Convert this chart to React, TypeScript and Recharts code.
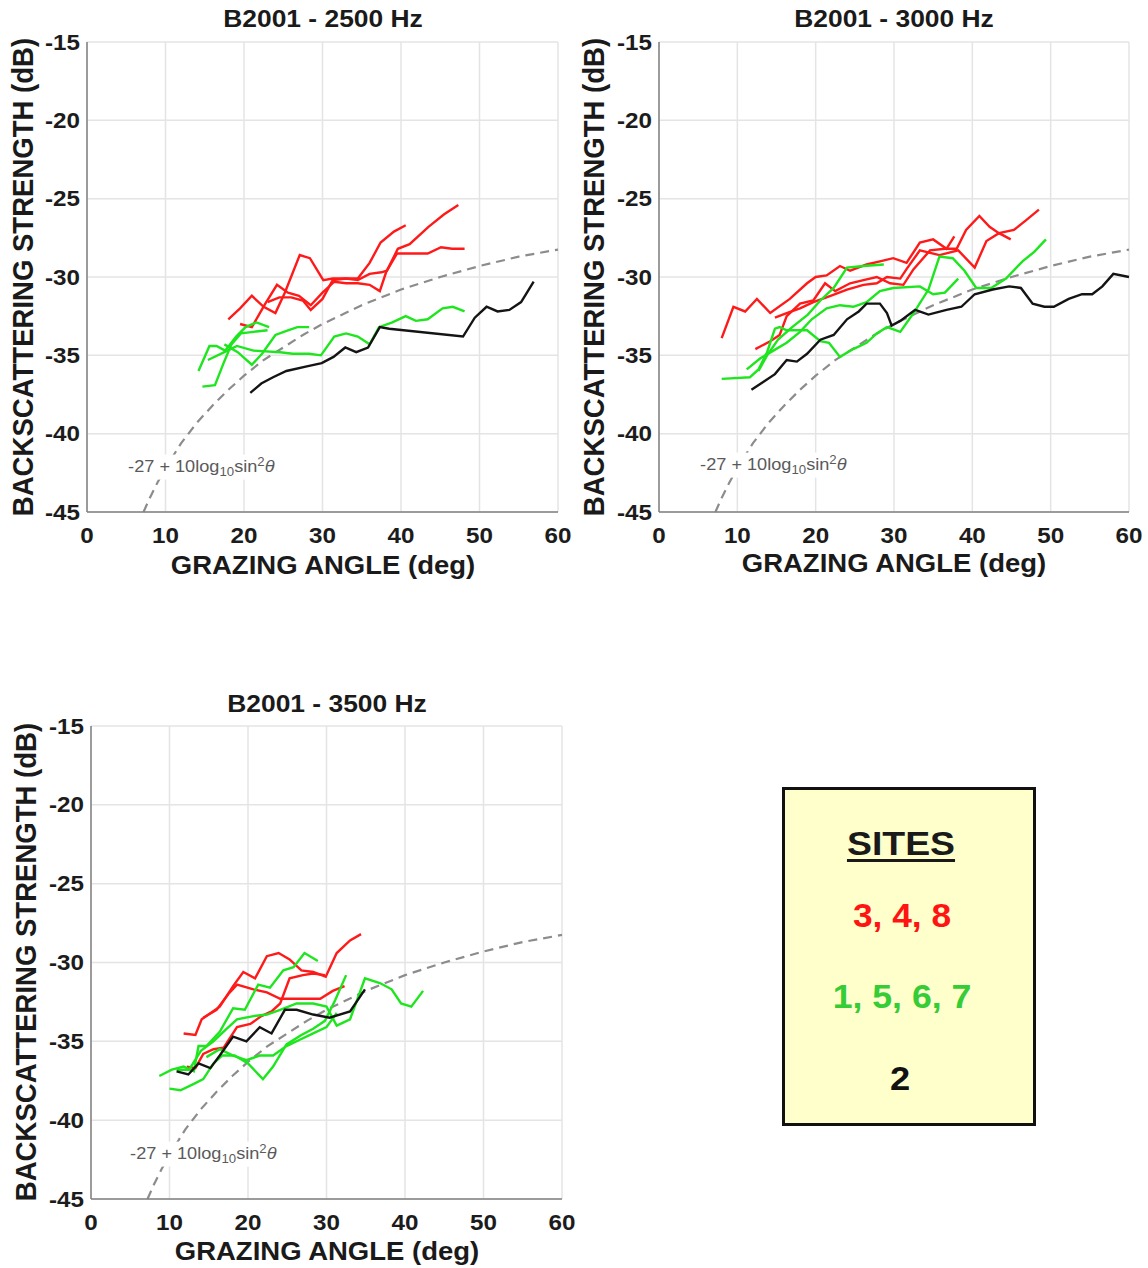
import React from 'react';
import { LineChart, Line, XAxis, YAxis, CartesianGrid } from 'recharts';

type Pt = [number, number];

// ---------- axis / text content ----------
const xTickValues = [0, 10, 20, 30, 40, 50, 60];
const yTickValues = [-45, -40, -35, -30, -25, -20, -15];
const panelTitles = ['B2001 - 2500 Hz', 'B2001 - 3000 Hz', 'B2001 - 3500 Hz'];
const xAxisTitle = 'GRAZING ANGLE (deg)';
const yAxisTitle = 'BACKSCATTERING STRENGTH (dB)';
const legendTitle = 'SITES';
const legendRed = '3, 4, 8';
const legendGreen = '1, 5, 6, 7';
const legendBlack = '2';

// ---------- model curve (-27 + 10log10 sin^2 theta) ----------
const modelCurve: Pt[] = [
  [7.2, -45.0], [8, -44.1], [9, -43.1], [10, -42.2], [12, -40.6], [14, -39.3], [16, -38.2],
  [18, -37.2], [20, -36.3], [22.5, -35.3], [25, -34.5], [27.5, -33.7], [30, -33.0], [35, -31.8],
  [40, -30.8], [45, -30.0], [50, -29.3], [55, -28.7], [60, -28.25],
];

// ---------- 2500 Hz ----------
const red2500A: Pt[] = [
  [18.0, -32.7], [19.5, -32.0], [21.0, -31.2], [22.5, -31.9], [24.0, -32.3], [25.2, -31.0], [27.1, -28.6],
  [28.4, -28.8], [30.1, -30.2], [31.3, -30.1], [34.5, -30.1], [36.0, -29.1], [37.4, -27.8], [39.1, -27.1], [40.6, -26.7],
];
const red2500B: Pt[] = [
  [19.5, -33.0], [21.0, -33.2], [22.6, -31.8], [24.2, -30.5], [25.6, -31.0], [27.0, -31.2], [28.5, -31.8],
  [30.0, -31.0], [31.5, -30.3], [33.0, -30.4], [34.5, -30.4], [36.0, -30.5], [37.3, -30.9], [38.1, -29.7],
  [39.6, -28.2], [41.1, -27.9], [43.5, -26.8], [45.5, -26.0], [47.3, -25.4],
];
const red2500C: Pt[] = [
  [23.0, -31.6], [24.5, -31.3], [26.0, -31.3], [27.5, -31.5], [28.5, -32.1], [30.0, -31.4], [31.3, -30.2],
  [33.0, -30.1], [34.5, -30.2], [36.0, -29.8], [37.5, -29.7], [38.2, -29.6], [39.5, -28.5], [41.0, -28.5],
  [43.4, -28.5], [45.1, -28.1], [46.5, -28.2], [48.1, -28.2],
];
const green2500A: Pt[] = [
  [14.2, -36.0], [15.6, -34.4], [16.5, -34.4], [17.6, -34.7], [19.0, -33.8], [20.2, -33.2], [21.6, -32.9], [23.2, -33.2],
];
const green2500B: Pt[] = [
  [14.7, -37.0], [16.3, -36.9], [17.4, -35.5], [18.4, -34.3], [19.6, -33.6], [21.2, -33.5], [23.0, -33.4],
];
const green2500C: Pt[] = [
  [15.4, -35.3], [17.5, -34.8], [19.1, -34.4], [21.2, -34.7], [24.6, -34.8], [26.2, -34.9], [28.3, -34.9],
  [29.8, -35.0], [31.5, -33.8], [33.0, -33.6], [34.5, -33.8], [36.0, -34.3], [37.2, -33.2], [38.9, -32.9],
  [40.6, -32.5], [41.9, -32.8], [43.4, -32.7], [45.3, -32.0], [46.6, -31.9], [48.1, -32.2],
];
const green2500D: Pt[] = [
  [17.5, -34.3], [19.2, -34.8], [21.0, -35.6], [22.3, -34.9], [24.0, -33.7], [25.6, -33.4], [26.8, -33.2], [28.3, -33.2],
];
const black2500: Pt[] = [
  [20.8, -37.4], [22.2, -36.8], [23.7, -36.4], [25.4, -36.0], [28.0, -35.7], [29.9, -35.5], [31.4, -35.1],
  [32.9, -34.5], [34.3, -34.8], [35.8, -34.5], [37.3, -33.2], [38.5, -33.3], [47.9, -33.8], [49.4, -32.6],
  [50.9, -31.9], [52.3, -32.2], [53.8, -32.1], [55.3, -31.6], [56.9, -30.3],
];

// ---------- 3000 Hz ----------
const red3000A: Pt[] = [
  [8.0, -33.9], [9.5, -31.9], [11.0, -32.2], [12.5, -31.4], [14.2, -32.3], [16.7, -31.4], [18.9, -30.4],
  [20.0, -30.0], [21.4, -29.9], [23.1, -29.3], [24.4, -29.6], [26.5, -29.2], [28.2, -29.0], [29.9, -28.8],
  [31.6, -29.1], [33.3, -27.8], [35.0, -27.6], [36.7, -28.2], [37.7, -27.4],
];
const red3000B: Pt[] = [
  [12.3, -34.6], [14.2, -34.1], [15.4, -33.7], [16.3, -32.5], [18.0, -31.7], [19.7, -31.5], [21.2, -30.4],
  [22.5, -30.9], [24.4, -30.4], [26.1, -30.2], [27.8, -30.0], [29.5, -30.4], [31.2, -30.5], [32.5, -29.5],
  [34.6, -28.3], [36.5, -28.2], [38.0, -28.2], [39.2, -27.0], [40.9, -26.1], [42.2, -26.8], [43.4, -27.2], [44.9, -27.6],
];
const red3000C: Pt[] = [
  [14.8, -32.6], [16.3, -32.3], [18.0, -32.0], [19.7, -31.6], [21.9, -31.2], [24.0, -30.8], [26.1, -30.5],
  [27.8, -30.4], [29.1, -30.0], [30.8, -30.1], [31.6, -29.5], [33.3, -28.3], [35.8, -28.6], [38.2, -28.3],
  [40.3, -29.4], [41.8, -27.7], [43.4, -27.2], [45.3, -27.0], [46.8, -26.4], [48.5, -25.7],
];
const green3000A: Pt[] = [
  [8.0, -36.5], [11.6, -36.4], [12.7, -35.9], [13.8, -34.8], [14.8, -33.3], [15.4, -33.2], [16.3, -33.4],
  [18.9, -33.4], [20.6, -34.1], [21.7, -34.2], [23.1, -35.1], [24.8, -34.6], [26.5, -34.2], [27.8, -33.6],
  [29.1, -33.2], [30.8, -33.5], [32.5, -32.3], [34.4, -30.8], [35.8, -28.7], [37.5, -28.8], [39.0, -29.6],
  [40.5, -30.7], [42.4, -30.7], [44.3, -30.1], [46.4, -29.0], [47.9, -28.4], [49.4, -27.6],
];
const green3000B: Pt[] = [
  [11.2, -35.9], [12.9, -35.2], [14.6, -34.7], [16.3, -34.2], [18.0, -33.5], [19.5, -32.7], [21.4, -32.0],
  [23.1, -31.8], [24.8, -31.9], [26.5, -31.6], [28.2, -30.9], [29.9, -30.7], [33.3, -30.6], [35.0, -31.1],
  [36.5, -31.0], [38.2, -30.1],
];
const green3000C: Pt[] = [
  [12.7, -36.0], [13.8, -35.0], [15.2, -34.0], [17.0, -33.2], [19.0, -32.4], [20.6, -31.5], [22.3, -30.7],
  [24.0, -29.4], [26.1, -29.3], [28.7, -29.2],
];
const black3000: Pt[] = [
  [11.8, -37.2], [13.3, -36.7], [14.8, -36.2], [16.3, -35.3], [17.6, -35.4], [18.9, -34.9], [20.6, -34.0],
  [22.3, -33.7], [24.0, -32.7], [25.5, -32.2], [26.5, -31.7], [28.2, -31.7], [29.1, -32.3], [29.7, -33.1],
  [30.8, -32.8], [32.7, -32.1], [34.4, -32.4], [36.7, -32.1], [38.6, -31.9], [40.3, -31.1], [42.6, -30.8],
  [44.7, -30.6], [46.2, -30.7], [47.7, -31.7], [49.2, -31.9], [50.4, -31.9], [52.3, -31.4], [54.0, -31.1],
  [55.3, -31.1], [56.6, -30.6], [58.0, -29.8], [60.0, -30.0],
];

// ---------- 3500 Hz ----------
const red3500A: Pt[] = [
  [11.8, -34.5], [13.3, -34.6], [14.1, -33.6], [16.4, -32.8], [18.1, -31.5], [19.4, -30.6], [20.9, -31.0],
  [22.4, -29.6], [23.9, -29.4], [25.3, -29.8], [26.8, -30.5], [28.3, -30.6], [29.9, -30.9], [31.3, -29.4],
  [33.0, -28.6], [34.4, -28.2],
];
const red3500B: Pt[] = [
  [14.3, -33.5], [16.0, -33.0], [17.5, -32.0], [18.6, -31.4], [20.7, -31.7], [22.4, -31.9], [24.1, -32.3],
  [26.2, -32.3], [29.2, -32.3], [30.8, -31.8], [32.3, -31.5],
];
const red3500C: Pt[] = [
  [12.2, -36.6], [13.3, -36.7], [14.3, -35.8], [15.6, -35.5], [16.9, -35.4], [18.6, -34.1], [20.3, -33.9],
  [21.7, -33.4], [23.0, -33.1], [24.1, -32.6], [25.3, -31.0], [27.0, -30.8], [28.3, -30.7], [29.8, -30.8],
];
const green3500A: Pt[] = [
  [8.7, -37.2], [10.3, -36.8], [11.8, -36.6], [13.1, -36.9], [13.7, -35.3], [14.7, -35.3], [16.4, -34.4],
  [18.1, -32.9], [19.6, -33.0], [21.3, -31.4], [22.8, -31.6], [24.5, -30.5], [25.8, -30.3], [27.2, -29.4], [28.9, -29.9],
];
const green3500B: Pt[] = [
  [10.0, -38.0], [11.4, -38.1], [13.1, -37.7], [14.3, -37.4], [15.6, -36.4], [16.7, -35.9], [18.3, -35.9],
  [20.0, -36.4], [21.9, -37.4], [23.2, -36.6], [24.9, -35.2], [26.8, -34.6], [28.3, -34.2], [29.8, -33.7],
  [31.1, -32.4], [32.5, -30.8],
];
const green3500C: Pt[] = [
  [10.9, -36.8], [12.5, -36.8], [14.0, -35.6], [15.6, -35.0], [17.3, -34.2], [18.6, -33.6], [20.7, -33.4],
  [22.4, -33.3], [24.1, -33.0], [26.2, -32.6], [28.3, -32.6], [30.0, -32.8], [31.3, -34.0], [33.0, -33.6],
  [34.9, -31.0], [36.8, -31.3], [38.3, -31.7], [39.5, -32.6], [40.8, -32.8], [42.3, -31.8],
];
const green3500D: Pt[] = [
  [14.7, -36.0], [16.4, -35.5], [18.1, -35.9], [19.8, -36.2], [21.5, -35.9], [23.2, -35.9], [24.9, -35.3],
  [26.6, -34.9], [28.3, -34.5], [30.0, -34.1], [31.3, -33.2],
];
const black3500: Pt[] = [
  [10.9, -36.9], [12.4, -37.1], [13.7, -36.4], [15.2, -36.7], [16.4, -35.9], [18.1, -34.7], [19.8, -35.0],
  [21.5, -34.1], [23.0, -34.5], [24.7, -33.0], [26.2, -33.0], [28.3, -33.3], [30.4, -33.5], [33.0, -33.1], [34.9, -31.7],
];

// ---------- styling ----------
const FONT = '"Liberation Sans", Arial, Helvetica, sans-serif';
const SX = 1.1;
const RED = '#ff1a1a';
const GREEN = '#1ee61e';
const BLACK = '#141414';
const DASH = '#8c8c8c';
const FRAME = '#808080';

type Series = { pts: Pt[]; color: string; dashed?: boolean };

const ML = 90;
const MT = 20;
const MR = 15;
const XH = 45;

function toData(pts: Pt[]) {
  return pts.map(([x, y]) => ({ x, y }));
}

function Panel(props: { plotLeft: number; plotTop: number; plotW: number; plotH: number; series: Series[] }) {
  const { plotLeft, plotTop, plotW, plotH, series } = props;
  const yTick = (p: any) => (
    <text
      transform={`translate(${ML - 7},${p.y}) scale(${SX},1)`}
      textAnchor="end"
      dominantBaseline="central"
      fontFamily={FONT}
      fontWeight="bold"
      fontSize={22}
      fill="#1c1c1c"
    >
      {p.payload.value}
    </text>
  );
  const xTick = (p: any) => (
    <text
      transform={`translate(${p.x},${MT + plotH + 23}) scale(${SX},1)`}
      textAnchor="middle"
      dominantBaseline="central"
      fontFamily={FONT}
      fontWeight="bold"
      fontSize={22}
      fill="#1c1c1c"
    >
      {p.payload.value}
    </text>
  );
  return (
    <div style={{ position: 'absolute', left: plotLeft - ML, top: plotTop - MT }}>
      <LineChart
        width={ML + plotW + MR}
        height={MT + plotH + XH}
        margin={{ top: MT, right: MR, bottom: 0, left: 0 }}
      >
        <CartesianGrid stroke="#e4e4e4" strokeWidth={1.5} />
        <XAxis
          type="number"
          dataKey="x"
          domain={[0, 60]}
          ticks={xTickValues}
          interval={0}
          height={XH}
          axisLine={{ stroke: FRAME, strokeWidth: 1.5 }}
          tickLine={false}
          tick={xTick}
        />
        <XAxis
          xAxisId="top"
          orientation="top"
          type="number"
          dataKey="x"
          domain={[0, 60]}
          ticks={xTickValues}
          height={0}
          axisLine={{ stroke: FRAME, strokeWidth: 1.5 }}
          tickLine={false}
          tick={false}
        />
        <YAxis
          type="number"
          domain={[-45, -15]}
          ticks={yTickValues}
          interval={0}
          width={ML}
          axisLine={{ stroke: FRAME, strokeWidth: 1.5 }}
          tickLine={false}
          tick={yTick}
        />
        <YAxis
          yAxisId="right"
          orientation="right"
          type="number"
          domain={[-45, -15]}
          ticks={yTickValues}
          width={0}
          axisLine={{ stroke: FRAME, strokeWidth: 1.5 }}
          tickLine={false}
          tick={false}
        />
        {series.map((s, i) => (
          <Line
            key={i}
            data={toData(s.pts)}
            dataKey="y"
            type="linear"
            stroke={s.color}
            strokeWidth={s.dashed ? 2.2 : 2.4}
            strokeDasharray={s.dashed ? '9 6' : undefined}
            dot={false}
            activeDot={false}
            isAnimationActive={false}
          />
        ))}
      </LineChart>
    </div>
  );
}

function TextAt(props: {
  cx: number;
  cy: number;
  size: number;
  color?: string;
  bold?: boolean;
  rotate?: boolean;
  scale?: string;
  underline?: boolean;
  children: React.ReactNode;
}) {
  const { cx, cy, size, color = '#1a1a1a', bold = true, rotate = false, scale, underline, children } = props;
  const tf = rotate
    ? `translate(-50%,-50%) rotate(-90deg) ${scale ?? 'scale(1.02,1.1)'}`
    : `translate(-50%,-50%) ${scale ?? `scale(${SX},1)`}`;
  return (
    <div
      style={{
        position: 'absolute',
        left: cx,
        top: cy,
        transform: tf,
        whiteSpace: 'nowrap',
        fontFamily: FONT,
        fontWeight: bold ? 'bold' : 'normal',
        fontSize: size,
        lineHeight: 1,
        color,
        textDecoration: underline ? 'underline' : 'none',
        textDecorationThickness: underline ? 3 : undefined,
        textUnderlineOffset: underline ? 4 : undefined,
      }}
    >
      {children}
    </div>
  );
}

function ModelNote(props: { left: number; cy: number }) {
  return (
    <div
      style={{
        position: 'absolute',
        left: props.left,
        top: props.cy,
        transform: `translateY(-50%) scale(${SX},1)`,
        transformOrigin: 'left center',
        whiteSpace: 'nowrap',
        fontFamily: FONT,
        fontSize: 16.5,
        color: '#5a5a5a',
        lineHeight: 1,
        background: '#ffffff',
        padding: '1px 1px',
      }}
    >
      -27 + 10log<sub style={{ fontSize: 12 }}>10</sub>sin<sup style={{ fontSize: 12 }}>2</sup>
      <i>θ</i>
    </div>
  );
}

const series2500: Series[] = [
  { pts: modelCurve, color: DASH, dashed: true },
  { pts: red2500A, color: RED },
  { pts: red2500B, color: RED },
  { pts: red2500C, color: RED },
  { pts: green2500A, color: GREEN },
  { pts: green2500B, color: GREEN },
  { pts: green2500C, color: GREEN },
  { pts: green2500D, color: GREEN },
  { pts: black2500, color: BLACK },
];
const series3000: Series[] = [
  { pts: modelCurve, color: DASH, dashed: true },
  { pts: red3000A, color: RED },
  { pts: red3000B, color: RED },
  { pts: red3000C, color: RED },
  { pts: green3000A, color: GREEN },
  { pts: green3000B, color: GREEN },
  { pts: green3000C, color: GREEN },
  { pts: black3000, color: BLACK },
];
const series3500: Series[] = [
  { pts: modelCurve, color: DASH, dashed: true },
  { pts: red3500A, color: RED },
  { pts: red3500B, color: RED },
  { pts: red3500C, color: RED },
  { pts: green3500A, color: GREEN },
  { pts: green3500B, color: GREEN },
  { pts: green3500C, color: GREEN },
  { pts: green3500D, color: GREEN },
  { pts: black3500, color: BLACK },
];

export default function App() {
  return (
    <div
      style={{
        position: 'absolute',
        left: 0,
        top: 0,
        width: 1148,
        height: 1268,
        background: '#ffffff',
        overflow: 'hidden',
      }}
    >
      {/* Panel 1 */}
      <Panel plotLeft={87} plotTop={42} plotW={471} plotH={470} series={series2500} />
      <TextAt cx={323} cy={19} size={24}>{panelTitles[0]}</TextAt>
      <TextAt cx={323} cy={565} size={25}>{xAxisTitle}</TextAt>
      <TextAt cx={24} cy={277} size={27} rotate>{yAxisTitle}</TextAt>
      <ModelNote left={127} cy={467} />

      {/* Panel 2 */}
      <Panel plotLeft={659} plotTop={42} plotW={470} plotH={470} series={series3000} />
      <TextAt cx={894} cy={19} size={24}>{panelTitles[1]}</TextAt>
      <TextAt cx={894} cy={563} size={25}>{xAxisTitle}</TextAt>
      <TextAt cx={595} cy={277} size={27} rotate>{yAxisTitle}</TextAt>
      <ModelNote left={699} cy={465} />

      {/* Panel 3 */}
      <Panel plotLeft={91} plotTop={726} plotW={471} plotH={473} series={series3500} />
      <TextAt cx={327} cy={704} size={24}>{panelTitles[2]}</TextAt>
      <TextAt cx={327} cy={1251} size={25}>{xAxisTitle}</TextAt>
      <TextAt cx={27} cy={962} size={27} rotate>{yAxisTitle}</TextAt>
      <ModelNote left={129} cy={1154} />

      {/* Legend box */}
      <div
        style={{
          position: 'absolute',
          left: 782,
          top: 787,
          width: 254,
          height: 339,
          boxSizing: 'border-box',
          border: '3px solid #111',
          background: '#ffffcc',
        }}
      />
      <TextAt cx={901} cy={843} size={34} underline>{legendTitle}</TextAt>
      <TextAt cx={902} cy={915} size={33} color="#ff1414" scale="scale(1.07,1)">{legendRed}</TextAt>
      <TextAt cx={902} cy={996} size={33} color="#36cc36" scale="scale(1.08,1)">{legendGreen}</TextAt>
      <TextAt cx={900} cy={1078} size={33} color="#111111">{legendBlack}</TextAt>
    </div>
  );
}
